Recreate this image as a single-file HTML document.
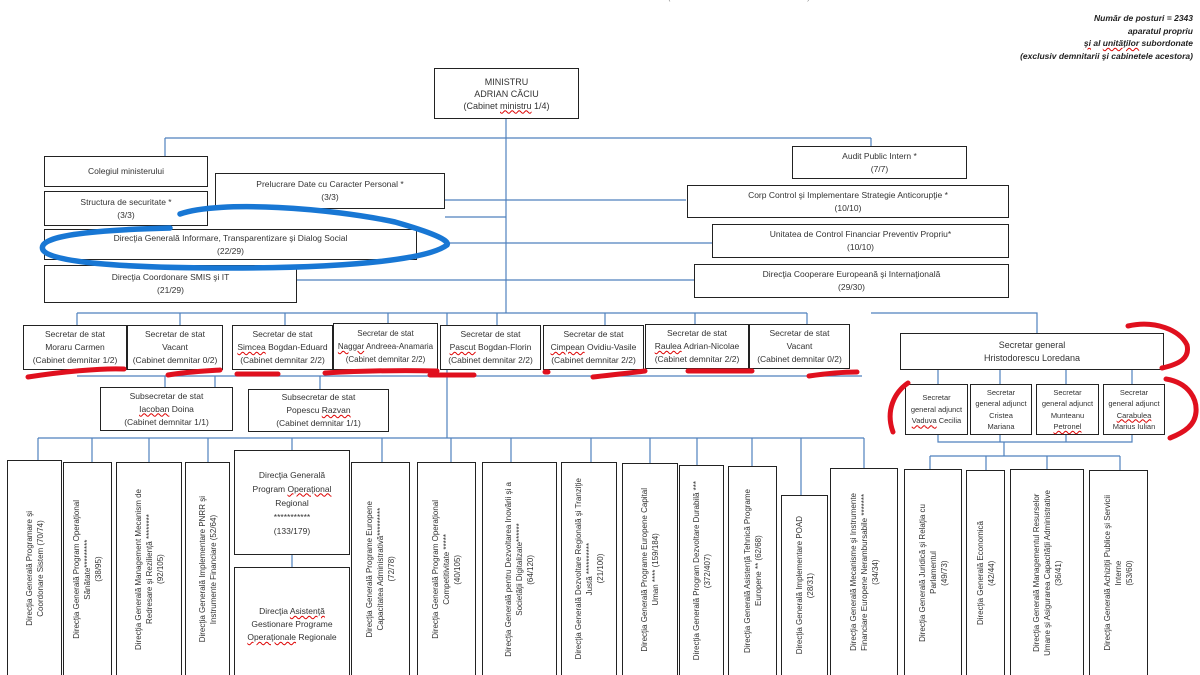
<!DOCTYPE html>
<html><head><meta charset="utf-8"><style>
html,body{margin:0;width:1200px;height:675px;overflow:hidden}
body{background:#fff;position:relative;font-family:"Liberation Sans",sans-serif;color:#333}
.b{position:absolute;border:1.5px solid #222;background:#fff;box-sizing:border-box;display:flex;align-items:center;justify-content:center;text-align:center;font-size:8.5px;line-height:13px}
.v{position:absolute;border:1.5px solid #222;border-bottom:none;background:#fff;box-sizing:border-box;display:flex;align-items:center;justify-content:center;font-size:8px;line-height:11px}
.v div{writing-mode:vertical-rl;transform:rotate(180deg);text-align:center}
svg{position:absolute;left:0;top:0}
.r{text-decoration:underline wavy #d00;text-decoration-thickness:1px}
</style></head><body>
<svg width="1200" height="675">
<g stroke="#4f81bd" stroke-width="1.2" fill="none">
<path d="M506 119V307 M165 138H871 M165 138V156 M871 138V146 M445 200H506 M445 217H506 M445 243H712 M297 280H694 M506 200H686 M506 307V313"/>
<path d="M77 313H807 M77 313V325 M180 313V325 M285 313V325 M388 313V325 M497 313V325 M605 313V325 M695 313V325 M807 313V325"/>
<path d="M77 376H862 M165 376V387 M215 376V387 M320 376V389 M447 313V438"/>
<path d="M38 438H864 M38 438V460 M92 438V462 M149 438V462 M208 438V462 M292 438V450 M382 438V462 M451 438V462 M511 438V462 M591 438V462 M650 438V463 M697 438V465 M752 438V466 M801 438V495 M864 438V468 M292 555V567"/>
<path d="M871 313H1037V333 M938 370V384 M1000 370V384 M1066 370V384 M1132 370V384 M938 435V442H1132V435 M1000 435V442 M1066 435V442 M1004 442V456 M930 456H1120 M930 456V469 M986 456V470 M1047 456V469 M1120 456V470"/>
</g>
</svg>
<div style="position:absolute;left:668px;top:-5px;font-size:7px;color:#777">(Anexa nr.1 la Hotărârea Guvernului 32/2018)</div>
<div style="position:absolute;right:7px;top:12px;text-align:right;font-size:8.5px;line-height:12.5px;font-style:italic;font-weight:bold;color:#222">Număr de posturi = 2343<br>aparatul propriu<br><span class="r">şi</span> al <span class="r">unităţilor</span> subordonate<br>(exclusiv demnitarii şi cabinetele acestora)</div>
<div class="b" style="left:434px;top:68px;width:145px;height:51px;font-size:9px;line-height:12px"><div>MINISTRU<br>ADRIAN CĂCIU<br>(Cabinet <span class="r">ministru</span> 1/4)</div></div>
<div class="b" style="left:44px;top:156px;width:164px;height:31px"><div>Colegiul ministerului</div></div>
<div class="b" style="left:44px;top:191px;width:164px;height:35px"><div>Structura de securitate *<br>(3/3)</div></div>
<div class="b" style="left:44px;top:229px;width:373px;height:31px"><div>Direcţia Generală Informare, Transparentizare şi Dialog Social<br>(22/29)</div></div>
<div class="b" style="left:44px;top:265px;width:253px;height:38px"><div>Direcţia Coordonare SMIS şi IT<br>(21/29)</div></div>
<div class="b" style="left:215px;top:173px;width:230px;height:36px"><div>Prelucrare Date cu Caracter Personal *<br>(3/3)</div></div>
<div class="b" style="left:792px;top:146px;width:175px;height:33px"><div>Audit Public Intern *<br>(7/7)</div></div>
<div class="b" style="left:687px;top:185px;width:322px;height:33px"><div>Corp Control şi Implementare Strategie Anticorupţie *<br>(10/10)</div></div>
<div class="b" style="left:712px;top:224px;width:297px;height:34px"><div>Unitatea de Control Financiar Preventiv Propriu*<br>(10/10)</div></div>
<div class="b" style="left:694px;top:264px;width:315px;height:34px"><div>Direcţia Cooperare Europeană şi Internaţională<br>(29/30)</div></div>

<div class="b" style="left:23px;top:325px;width:104px;height:45px"><div>Secretar de stat<br>Moraru Carmen<br>(Cabinet demnitar 1/2)</div></div>
<div class="b" style="left:127px;top:325px;width:96px;height:45px"><div>Secretar de stat<br>Vacant<br>(Cabinet demnitar 0/2)</div></div>
<div class="b" style="left:232px;top:325px;width:101px;height:45px"><div>Secretar de stat<br><span class="r">Simcea</span> Bogdan-Eduard<br>(Cabinet demnitar 2/2)</div></div>
<div class="b" style="left:333px;top:323px;width:105px;height:47px;font-size:8px"><div>Secretar de stat<br><span class="r">Naggar</span> Andreea-Anamaria<br>(Cabinet demnitar 2/2)</div></div>
<div class="b" style="left:440px;top:325px;width:101px;height:45px"><div>Secretar de stat<br><span class="r">Pascut</span> Bogdan-Florin<br>(Cabinet demnitar 2/2)</div></div>
<div class="b" style="left:543px;top:325px;width:101px;height:45px"><div>Secretar de stat<br><span class="r">Cimpean</span> Ovidiu-Vasile<br>(Cabinet demnitar 2/2)</div></div>
<div class="b" style="left:645px;top:324px;width:104px;height:45px"><div>Secretar de stat<br><span class="r">Raulea</span> Adrian-Nicolae<br>(Cabinet demnitar 2/2)</div></div>
<div class="b" style="left:749px;top:324px;width:101px;height:45px"><div>Secretar de stat<br>Vacant<br>(Cabinet demnitar 0/2)</div></div>
<div class="b" style="left:100px;top:387px;width:133px;height:44px"><div>Subsecretar de stat<br><span class="r">Iacoban</span> Doina<br>(Cabinet demnitar 1/1)</div></div>
<div class="b" style="left:248px;top:389px;width:141px;height:43px"><div>Subsecretar de stat<br>Popescu <span class="r">Razvan</span><br>(Cabinet demnitar 1/1)</div></div>

<div class="b" style="left:900px;top:333px;width:264px;height:37px;font-size:9px"><div>Secretar general<br>Hristodorescu Loredana</div></div>
<div class="b" style="left:905px;top:384px;width:63px;height:51px;font-size:7.5px;line-height:11.5px"><div>Secretar<br>general adjunct<br><span class="r">Vaduva</span> Cecilia</div></div>
<div class="b" style="left:970px;top:384px;width:62px;height:51px;font-size:7.5px;line-height:11.5px"><div>Secretar<br>general adjunct<br>Cristea<br>Mariana</div></div>
<div class="b" style="left:1036px;top:384px;width:63px;height:51px;font-size:7.5px;line-height:11.5px"><div>Secretar<br>general adjunct<br>Munteanu<br><span class="r">Petronel</span></div></div>
<div class="b" style="left:1103px;top:384px;width:62px;height:51px;font-size:7.5px;line-height:11.5px"><div>Secretar<br>general adjunct<br><span class="r">Carabulea</span><br>Marius Iulian</div></div>

<div class="v" style="left:7px;top:460px;width:55px;height:215px"><div>Direcţia Generală Programare şi<br>Coordonare Sistem (70/74)</div></div>
<div class="v" style="left:63px;top:462px;width:49px;height:213px"><div>Direcţia Generală Program Operaţional<br>Sănătate*********<br>(38/95)</div></div>
<div class="v" style="left:116px;top:462px;width:66px;height:213px"><div>Direcţia Generală Management Mecanism de<br>Redresare şi Reziliență ********<br>(92/105)</div></div>
<div class="v" style="left:185px;top:462px;width:45px;height:213px"><div>Direcţia Generală Implementare PNRR şi<br>Instrumente Financiare (52/64)</div></div>
<div class="b" style="left:234px;top:450px;width:116px;height:105px;font-size:8.5px;line-height:14px"><div>Direcţia Generală<br>Program <span class="r">Operaţional</span><br>Regional<br>***********<br>(133/179)</div></div>
<div class="b" style="left:234px;top:567px;width:116px;height:115px;font-size:8.5px;line-height:13px"><div>Direcţia <span class="r">Asistenţă</span><br>Gestionare Programe<br><span class="r">Operaţionale</span> Regionale</div></div>
<div class="v" style="left:351px;top:462px;width:59px;height:213px"><div>Direcţia Generală Programe Europene<br>Capacitatea Administrativă*********<br>(72/78)</div></div>
<div class="v" style="left:417px;top:462px;width:59px;height:213px"><div>Direcţia Generală Program Operaţional<br>Competitivitate *****<br>(40/105)</div></div>
<div class="v" style="left:482px;top:462px;width:75px;height:213px"><div>Direcţia Generală pentru Dezvoltarea Inovării şi a<br>Societăţii Digitalizate******<br>(64/120)</div></div>
<div class="v" style="left:561px;top:462px;width:56px;height:213px"><div>Direcţia Generală Dezvoltare Regională şi Tranziţie<br>Justă **********<br>(21/100)</div></div>
<div class="v" style="left:622px;top:463px;width:56px;height:212px"><div>Direcţia Generală Programe Europene Capital<br>Uman **** (159/184)</div></div>
<div class="v" style="left:679px;top:465px;width:45px;height:210px"><div>Direcţia Generală Program Dezvoltare Durabilă ***<br>(372/407)</div></div>
<div class="v" style="left:728px;top:466px;width:49px;height:209px"><div>Direcţia Generală Asistenţă Tehnică Programe<br>Europene ** (62/68)</div></div>
<div class="v" style="left:781px;top:495px;width:47px;height:180px"><div>Direcţia Generală Implementare POAD<br>(28/31)</div></div>
<div class="v" style="left:830px;top:468px;width:68px;height:207px"><div>Direcţia Generală Mecanisme şi Instrumente<br>Financiare Europene Nerambursabile *******<br>(34/34)</div></div>
<div class="v" style="left:904px;top:469px;width:58px;height:206px"><div>Direcţia Generală Juridică şi Relaţia cu<br>Parlamentul<br>(49/73)</div></div>
<div class="v" style="left:966px;top:470px;width:39px;height:205px"><div>Direcţia Generală Economică<br>(42/44)</div></div>
<div class="v" style="left:1010px;top:469px;width:74px;height:206px"><div>Direcţia Generală Managementul Resurselor<br>Umane şi Asigurarea Capacităţii Administrative<br>(36/41)</div></div>
<div class="v" style="left:1089px;top:470px;width:59px;height:205px"><div>Direcţia Generală Achiziţii Publice şi Servicii<br>Interne<br>(53/60)</div></div>

<svg width="1200" height="675">
<path d="M180 214 C220 200 330 208 395 222 C430 232 450 240 447 245 C430 258 360 268 230 268 C120 268 50 262 43 250 C36 236 90 230 170 228" fill="none" stroke="#1877d4" stroke-width="5.5" stroke-linecap="round"/>
<g stroke="#e0101e" stroke-width="5" fill="none" stroke-linecap="round">
<path d="M28 377 C60 372 100 368 124 369"/>
<path d="M168 375 C185 372 205 371 220 370"/>
<path d="M237 374 H278"/>
<path d="M325 373 C360 371 400 370 437 371"/>
<path d="M430 375 H474"/>
<path d="M545 372 H548 M593 377 C610 375 630 373 645 371"/>
<path d="M688 371 H752"/>
<path d="M809 376 C830 373 845 372 857 372"/>
<path d="M1128 326 C1155 320 1180 330 1187 345 C1190 358 1180 364 1162 368"/>
<path d="M908 383 C895 392 885 410 893 432"/>
<path d="M1166 379 C1190 383 1197 400 1196 412 C1195 425 1185 432 1170 438"/>
</g>
</svg>
</body></html>
